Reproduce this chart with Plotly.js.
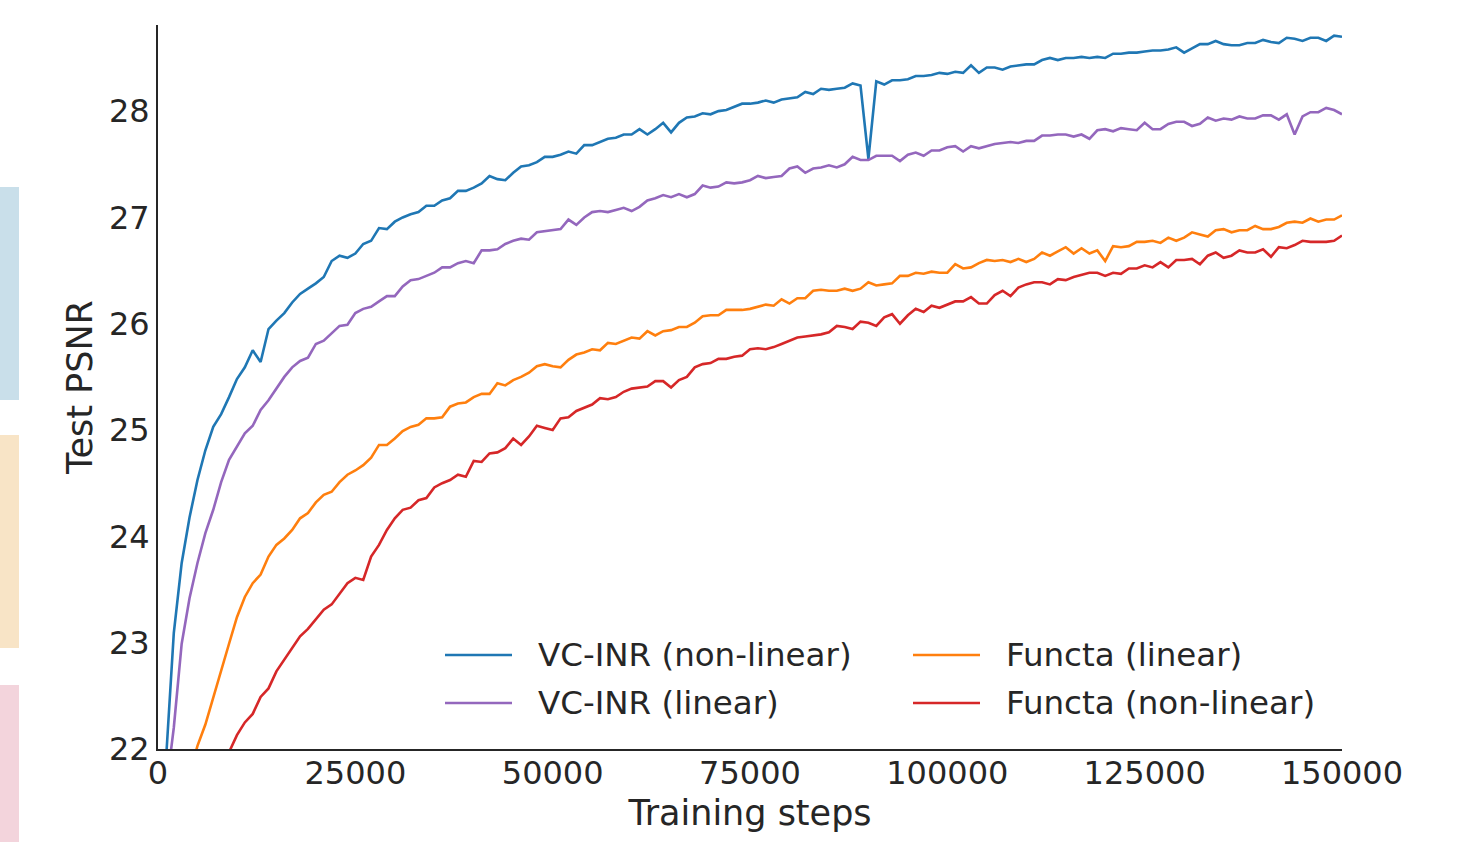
<!DOCTYPE html>
<html>
<head>
<meta charset="utf-8">
<script src="https://cdn.plot.ly/plotly-3.0.1.min.js"></script>
<style>html,body{margin:0;padding:0;background:#fff;}#chart{width:1467px;height:842px;}</style>
</head>
<body>
<div id="chart"></div>
<script>
// Training steps (x values)
const steps = [
  1000,2000,3000,4000,5000,6000,7000,8000,9000,10000,
  11000,12000,13000,14000,15000,16000,17000,18000,19000,20000,
  21000,22000,23000,24000,25000,26000,27000,28000,29000,30000,
  31000,32000,33000,34000,35000,36000,37000,38000,39000,40000,
  41000,42000,43000,44000,45000,46000,47000,48000,49000,50000,
  51000,52000,53000,54000,55000,56000,57000,58000,59000,60000,
  61000,62000,63000,64000,65000,66000,67000,68000,69000,70000,
  71000,72000,73000,74000,75000,76000,77000,78000,79000,80000,
  81000,82000,83000,84000,85000,86000,87000,88000,89000,90000,
  91000,92000,93000,94000,95000,96000,97000,98000,99000,100000,
  101000,102000,103000,104000,105000,106000,107000,108000,109000,110000,
  111000,112000,113000,114000,115000,116000,117000,118000,119000,120000,
  121000,122000,123000,124000,125000,126000,127000,128000,129000,130000,
  131000,132000,133000,134000,135000,136000,137000,138000,139000,140000,
  141000,142000,143000,144000,145000,146000,147000,148000,149000,150000
];

// Test PSNR per series
const vcinrNonLinear = [
  21.88,23.09,23.75,24.18,24.53,24.81,25.03,25.15,25.31,25.48,
  25.59,25.75,25.64,25.95,26.03,26.10,26.20,26.28,26.33,26.38,
  26.44,26.59,26.64,26.62,26.66,26.75,26.78,26.90,26.89,26.96,
  27.00,27.03,27.05,27.11,27.11,27.16,27.18,27.25,27.25,27.28,
  27.32,27.39,27.36,27.35,27.42,27.48,27.49,27.52,27.57,27.57,
  27.59,27.62,27.60,27.68,27.68,27.71,27.74,27.75,27.78,27.78,
  27.83,27.78,27.83,27.89,27.80,27.89,27.94,27.95,27.98,27.97,
  28.00,28.01,28.04,28.07,28.07,28.08,28.10,28.08,28.11,28.12,
  28.13,28.18,28.16,28.21,28.20,28.21,28.22,28.26,28.24,27.55,
  28.28,28.25,28.29,28.29,28.30,28.33,28.33,28.34,28.36,28.35,
  28.37,28.36,28.43,28.36,28.41,28.41,28.39,28.42,28.43,28.44,
  28.44,28.48,28.50,28.48,28.50,28.50,28.51,28.50,28.51,28.50,
  28.54,28.54,28.55,28.55,28.56,28.57,28.57,28.58,28.60,28.55,
  28.59,28.63,28.63,28.66,28.63,28.62,28.62,28.64,28.64,28.67,
  28.65,28.64,28.69,28.68,28.66,28.69,28.69,28.66,28.71,28.70
];
const vcinrLinear = [
  21.60,22.20,22.99,23.42,23.75,24.03,24.25,24.51,24.72,24.84,
  24.97,25.04,25.19,25.28,25.39,25.50,25.59,25.65,25.68,25.81,
  25.84,25.91,25.98,25.99,26.10,26.14,26.16,26.21,26.26,26.26,
  26.35,26.41,26.42,26.45,26.48,26.53,26.53,26.57,26.59,26.57,
  26.69,26.69,26.70,26.75,26.78,26.80,26.79,26.86,26.87,26.88,
  26.89,26.98,26.93,27.00,27.05,27.06,27.05,27.07,27.09,27.06,
  27.10,27.16,27.18,27.21,27.19,27.22,27.19,27.22,27.30,27.28,
  27.29,27.33,27.32,27.33,27.35,27.39,27.37,27.38,27.39,27.46,
  27.48,27.42,27.46,27.47,27.49,27.47,27.50,27.57,27.54,27.54,
  27.58,27.58,27.58,27.53,27.59,27.61,27.58,27.63,27.63,27.66,
  27.67,27.62,27.67,27.65,27.67,27.69,27.70,27.71,27.70,27.72,
  27.72,27.77,27.77,27.78,27.78,27.76,27.78,27.74,27.82,27.83,
  27.81,27.84,27.83,27.82,27.89,27.83,27.83,27.88,27.90,27.90,
  27.86,27.88,27.94,27.91,27.93,27.92,27.95,27.93,27.93,27.96,
  27.96,27.92,27.97,27.78,27.95,27.99,27.99,28.03,28.01,27.97
];
const functaLinear = [
  20.90,21.20,21.45,21.76,22.03,22.23,22.49,22.74,22.99,23.24,
  23.43,23.56,23.64,23.81,23.92,23.98,24.06,24.17,24.22,24.32,
  24.39,24.42,24.51,24.58,24.62,24.67,24.74,24.86,24.86,24.92,
  24.99,25.03,25.05,25.11,25.11,25.12,25.22,25.25,25.26,25.31,
  25.34,25.34,25.44,25.42,25.47,25.50,25.54,25.60,25.62,25.60,
  25.59,25.66,25.71,25.73,25.76,25.75,25.82,25.81,25.84,25.87,
  25.86,25.93,25.89,25.93,25.94,25.97,25.97,26.01,26.07,26.08,
  26.08,26.13,26.13,26.13,26.14,26.16,26.18,26.17,26.23,26.19,
  26.24,26.24,26.31,26.32,26.31,26.31,26.33,26.31,26.33,26.39,
  26.36,26.37,26.38,26.45,26.45,26.48,26.47,26.49,26.48,26.48,
  26.56,26.52,26.53,26.57,26.60,26.59,26.60,26.58,26.61,26.58,
  26.61,26.67,26.64,26.68,26.72,26.66,26.71,26.66,26.69,26.59,
  26.73,26.72,26.73,26.77,26.77,26.78,26.76,26.81,26.78,26.81,
  26.86,26.84,26.82,26.88,26.89,26.86,26.88,26.88,26.92,26.89,
  26.89,26.91,26.95,26.96,26.95,26.99,26.96,26.98,26.98,27.02
];
const functaNonLinear = [
  20.30,20.50,20.75,21.00,21.20,21.40,21.60,21.80,21.97,22.13,
  22.25,22.33,22.49,22.57,22.73,22.84,22.96,23.06,23.13,23.22,
  23.31,23.36,23.46,23.56,23.61,23.59,23.81,23.92,24.06,24.17,
  24.25,24.27,24.34,24.36,24.46,24.50,24.53,24.58,24.56,24.71,
  24.70,24.78,24.79,24.83,24.92,24.86,24.94,25.04,25.02,25.00,
  25.11,25.12,25.18,25.21,25.24,25.30,25.29,25.31,25.36,25.39,
  25.40,25.41,25.46,25.46,25.40,25.47,25.50,25.59,25.62,25.63,
  25.67,25.67,25.69,25.70,25.76,25.77,25.76,25.78,25.81,25.84,
  25.87,25.88,25.89,25.90,25.92,25.98,25.97,25.95,26.02,26.01,
  25.98,26.06,26.09,26.00,26.08,26.14,26.11,26.17,26.15,26.18,
  26.21,26.21,26.25,26.19,26.19,26.27,26.31,26.26,26.34,26.37,
  26.39,26.39,26.37,26.42,26.41,26.44,26.46,26.48,26.48,26.45,
  26.48,26.47,26.52,26.52,26.55,26.53,26.58,26.53,26.60,26.60,
  26.61,26.56,26.64,26.67,26.62,26.64,26.69,26.67,26.67,26.70,
  26.63,26.72,26.71,26.74,26.78,26.77,26.77,26.77,26.78,26.83
];

const seriesNames = ['VC-INR (non-linear)', 'VC-INR (linear)', 'Functa (linear)', 'Functa (non-linear)'];
const seriesColors = ['#1f77b4', '#9467bd', '#ff7f0e', '#d62728'];
const seriesValues = [vcinrNonLinear, vcinrLinear, functaLinear, functaNonLinear];
const xTicks = [0, 25000, 50000, 75000, 100000, 125000, 150000];
const yTicks = [22, 23, 24, 25, 26, 27, 28];

const TEXT = '#262626';
const FONT = 'DejaVu Sans, Liberation Sans, sans-serif';

const traces = seriesValues.map((vals, i) => ({
  type: 'scatter',
  mode: 'lines',
  x: steps,
  y: vals,
  name: seriesNames[i],
  line: {color: seriesColors[i], width: 2.6},
  showlegend: false,
  hoverinfo: 'x+y+name'
}));

// Manual legend (matplotlib-style long handles, 2 columns)
const plotL = 158, plotR = 1342, plotT = 25, plotB = 749;
const pw = plotR - plotL, ph = plotB - plotT;
const px = v => (v - plotL) / pw;
const py = v => (plotB - v) / ph;
const legendSlots = [
  {col: 0, row: 0}, // VC-INR (non-linear)
  {col: 0, row: 1}, // VC-INR (linear)
  {col: 1, row: 0}, // Functa (linear)
  {col: 1, row: 1}  // Functa (non-linear)
];
const colX = [445, 913];
const rowY = [655, 703];

const shapes = [
  {type: 'rect', xref: 'paper', yref: 'paper', x0: px(0), x1: px(19), y0: py(400), y1: py(187), fillcolor: '#c9dfea', line: {width: 0}, layer: 'below'},
  {type: 'rect', xref: 'paper', yref: 'paper', x0: px(0), x1: px(19), y0: py(648), y1: py(435), fillcolor: '#f8e4c6', line: {width: 0}, layer: 'below'},
  {type: 'rect', xref: 'paper', yref: 'paper', x0: px(0), x1: px(19), y0: py(842), y1: py(685), fillcolor: '#f3d4dc', line: {width: 0}, layer: 'below'}
];
const annotations = [];
legendSlots.forEach((s, i) => {
  const x0 = colX[s.col], y = rowY[s.row];
  shapes.push({type: 'line', xref: 'paper', yref: 'paper', x0: px(x0), x1: px(x0 + 67), y0: py(y), y1: py(y), line: {color: seriesColors[i], width: 2.6}});
  annotations.push({xref: 'paper', yref: 'paper', x: px(x0 + 91), y: py(y), xanchor: 'left', yanchor: 'middle', showarrow: false, text: seriesNames[i], font: {family: FONT, size: 32.5, color: TEXT}});
});

const layout = {
  width: 1467,
  height: 842,
  margin: {l: plotL, r: 1467 - plotR, t: plotT, b: 842 - plotB},
  paper_bgcolor: '#ffffff',
  plot_bgcolor: '#ffffff',
  font: {family: FONT, color: TEXT},
  showlegend: false,
  xaxis: {
    range: [0, 150000],
    tickvals: xTicks,
    ticktext: xTicks.map(String),
    showgrid: false, zeroline: false,
    showline: true, linecolor: TEXT, linewidth: 2,
    ticks: '',
    ticklabelstandoff: -5,
    tickfont: {family: FONT, size: 32, color: TEXT},
    title: {text: 'Training steps', font: {family: FONT, size: 35, color: TEXT}, standoff: 9},
    automargin: false
  },
  yaxis: {
    range: [22, 28.81],
    tickvals: yTicks,
    ticktext: yTicks.map(String),
    showgrid: false, zeroline: false,
    showline: true, linecolor: TEXT, linewidth: 2,
    ticks: '',
    tickfont: {family: FONT, size: 32, color: TEXT},
    title: {text: 'Test PSNR', font: {family: FONT, size: 35, color: TEXT}, standoff: 6},
    automargin: false
  },
  shapes: shapes,
  annotations: annotations
};

Plotly.newPlot('chart', traces, layout, {displayModeBar: false, responsive: false});
</script>
</body>
</html>
